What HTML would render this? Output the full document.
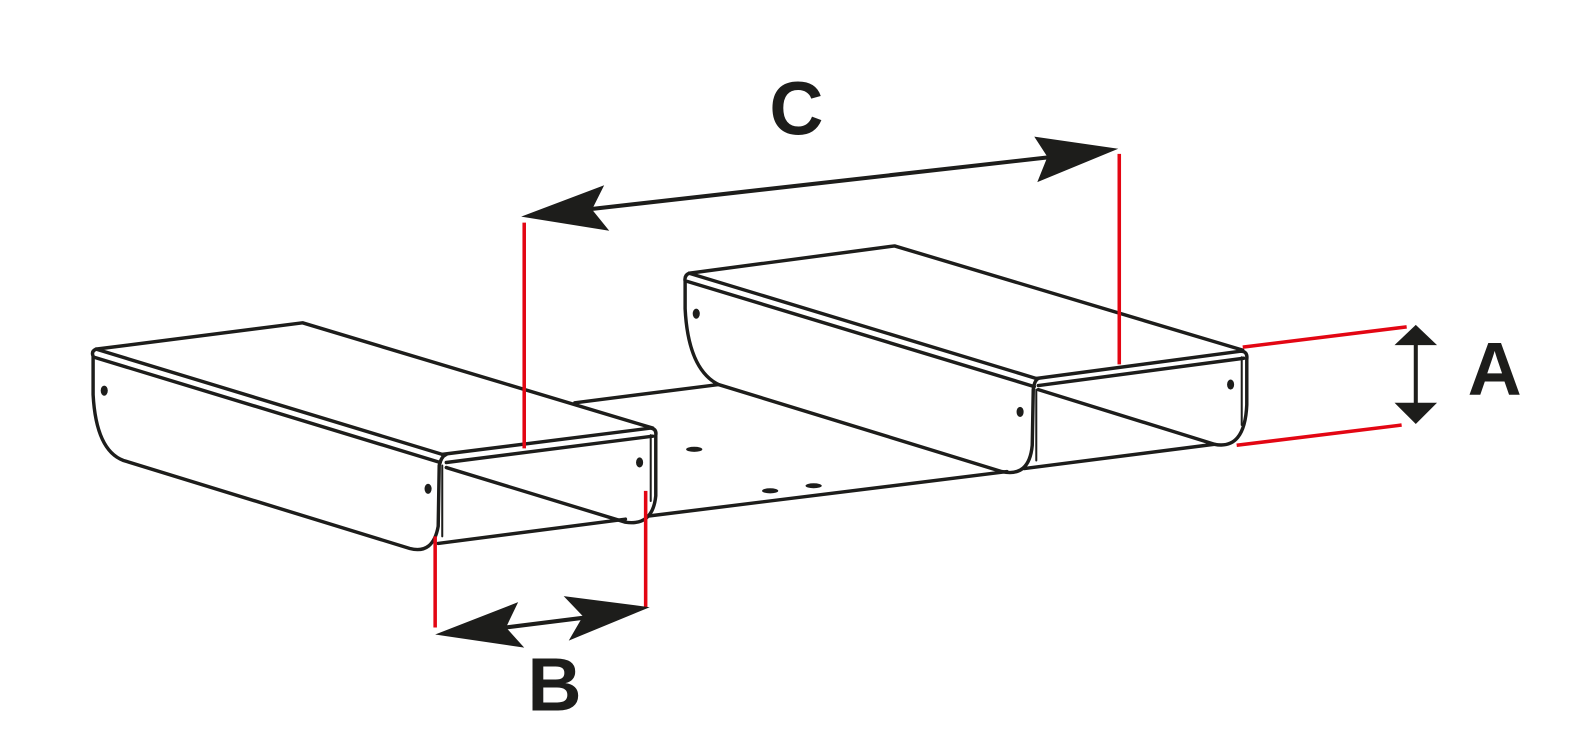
<!DOCTYPE html>
<html><head><meta charset="utf-8"><style>
html,body{margin:0;padding:0;background:#fff;}
svg{display:block}
</style></head><body>
<svg width="1589" height="754" viewBox="0 0 1589 754" xmlns="http://www.w3.org/2000/svg">
<rect width="1589" height="754" fill="#fff"/>
<g transform="scale(1.012)" fill="none" stroke="#1d1d1b" stroke-width="3.4" stroke-linejoin="round" stroke-linecap="round">
<line x1="568" y1="398" x2="710" y2="380"/>
<line x1="433" y1="537" x2="618" y2="513"/>
<line x1="640" y1="510" x2="995" y2="466"/>
<line x1="1012" y1="463" x2="1200" y2="439"/>
<path d="M95 345 L299 319 L645 423"/>
<path d="M95 345 Q90 347 92 352 L92 390 Q95 445 122 455 L405 542 Q428 548 433 520 L434 460 Q436 451 441 449"/>
<line x1="95" y1="345" x2="437" y2="449"/>
<line x1="93" y1="353" x2="435" y2="457"/>
<path d="M437 449 L643 423 Q649 424 648 430 L648 490 Q645 520 618 516 L441 462"/>
<line x1="441" y1="457" x2="645" y2="431"/>
<line x1="437" y1="460" x2="437" y2="530" stroke-width="2"/>
<line x1="643" y1="430" x2="643" y2="495" stroke-width="2"/>
<path d="M681 270 L884 243 L1228 346"/>
<path d="M681 270 Q676 272 677 278 L677 305 Q680 365 710 380 L990 466 Q1017 472 1020 440 L1021 385 Q1022 376 1026 374"/>
<line x1="681" y1="270" x2="1024" y2="374"/>
<line x1="679" y1="278" x2="1022" y2="382"/>
<path d="M1024 374 L1226 347 Q1233 347 1232 355 L1232 400 Q1230 445 1200 439 L1026 385"/>
<line x1="1026" y1="381" x2="1229" y2="354"/>
<line x1="1024" y1="385" x2="1024" y2="455" stroke-width="2"/>
<line x1="1227" y1="353" x2="1227" y2="420" stroke-width="2"/>
</g>
<g transform="scale(1.012)" fill="#1d1d1b">
<ellipse cx="103" cy="386" rx="3.5" ry="5"/>
<ellipse cx="423" cy="483" rx="3.5" ry="5"/>
<ellipse cx="632" cy="457" rx="3.5" ry="5"/>
<ellipse cx="688" cy="310" rx="3.5" ry="5"/>
<ellipse cx="1008" cy="407" rx="3.5" ry="5"/>
<ellipse cx="1216" cy="380" rx="3.5" ry="5"/>
<ellipse cx="686" cy="444" rx="8" ry="2.5"/>
<ellipse cx="761" cy="485" rx="8" ry="2.5"/>
<ellipse cx="804" cy="480" rx="8" ry="2.5"/>
<g stroke="#e30613" stroke-width="3.5">
<line x1="518" y1="220" x2="518" y2="443"/>
<line x1="1106" y1="152" x2="1106" y2="360"/>
<line x1="430" y1="530" x2="430" y2="620"/>
<line x1="638" y1="485" x2="638" y2="600"/>
<line x1="1228" y1="343" x2="1390" y2="323"/>
<line x1="1222" y1="440" x2="1385" y2="420"/>
</g>
<line x1="580" y1="207" x2="1040" y2="155" stroke="#1d1d1b" stroke-width="4"/>
<polygon points="515,214 597,183 585,207 602,228"/>
<polygon points="1105,147 1022,135 1035,155 1025,180"/>
<line x1="500" y1="620" x2="580" y2="610" stroke="#1d1d1b" stroke-width="4"/>
<polygon points="430,627 512,595 500,620 518,640"/>
<polygon points="642,600 557,589 576,609 562,633"/>
<line x1="1399" y1="335" x2="1399" y2="410" stroke="#1d1d1b" stroke-width="4"/>
<polygon points="1399,321 1378,341 1420,341"/>
<polygon points="1399,419 1378,398 1420,398"/>
<g font-family="Liberation Sans, sans-serif" font-weight="bold" font-size="74" text-anchor="middle">
<text x="787" y="133">C</text>
<text x="548" y="702">B</text>
<text x="1477" y="390">A</text>
</g>
</g>
</svg>
</body></html>
